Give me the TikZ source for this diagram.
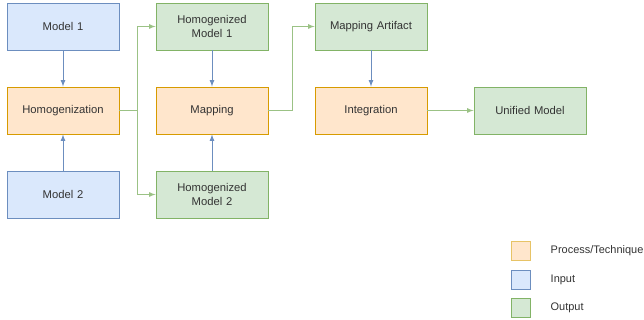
\documentclass[tikz,border=0pt]{standalone}
\usepackage{fontspec}
\setmainfont{Liberation Sans}
\usetikzlibrary{arrows, calc, positioning}

\definecolor{inFill}{HTML}{DAE8FC}
\definecolor{inLine}{HTML}{6C8EBF}
\definecolor{procFill}{HTML}{FFE6CC}
\definecolor{procLine}{HTML}{D79B00}
\definecolor{outFill}{HTML}{D5E8D4}
\definecolor{outLine}{HTML}{82B366}
\definecolor{txt}{HTML}{333333}

\tikzset{
    box/.style = {draw, line width=0.6pt, minimum width=2.8cm, minimum height=1.175cm, text width=2.5cm, align=center, inner sep=0pt, font=\fontsize{8}{9.5}\selectfont, text=txt},
    inbox/.style = {box, fill=inFill, draw=inLine},
    procbox/.style = {box, fill=procFill, draw=procLine},
    outbox/.style = {box, fill=outFill, draw=outLine},
    keybox/.style = {draw, line width=0.6pt, minimum size=0.475cm, inner sep=0pt},
    keytext/.style = {anchor=west, inner sep=0pt, font=\fontsize{7.8}{9}\selectfont, text=txt},
    blueline/.style = {->, draw=inLine, line width=0.6pt},
    greenline/.style = {->, draw=outLine!80, line width=0.6pt}
}

\begin{document}
\begin{tikzpicture}[>=latex]
    \useasboundingbox (0,0) rectangle (16.1,-8);

    \node[inbox] at (1.575,-0.6625) (model1) {Model 1};
    \node[procbox, below of=model1, node distance=2.1cm] (homog) {Homogenization};
    \node[inbox, below of=homog, node distance=2.1cm] (model2) {Model 2};

    \node[outbox, right of=model1, node distance=3.725cm] (hmodel1) {Homogenized\\Model 1};
    \node[procbox, right of=homog, node distance=3.725cm] (mapping) {Mapping};
    \node[outbox, right of=model2, node distance=3.725cm] (hmodel2) {Homogenized\\Model 2};

    \node[outbox, right of=hmodel1, node distance=3.975cm] (artifact) {Mapping Artifact};
    \node[procbox, right of=mapping, node distance=3.975cm] (integr) {Integration};
    \node[outbox, right of=integr, node distance=3.975cm] (unified) {Unified Model};

    \draw[blueline] (model1) -- (homog);
    \draw[blueline] (model2) -- (homog);
    \draw[blueline] (hmodel1) -- (mapping);
    \draw[blueline] (hmodel2) -- (mapping);
    \draw[blueline] (artifact) -- (integr);

    \coordinate (split) at ($(homog.east)!0.5!(mapping.west)$);
    \draw[greenline] (homog.east) -| (split) |- (hmodel1.west);
    \draw[greenline] (homog.east) -| (split) |- (hmodel2.west);
    \coordinate (turn) at ([xshift=0.6cm]mapping.east);
    \draw[greenline] (mapping.east) -| (turn) |- (artifact.west);
    \draw[greenline] (integr) -- (unified);

    % legend
    \node[keybox, fill=procFill, draw=procLine!60] at (13.0125,-6.2625) (keyproc) {};
    \node[keybox, fill=inFill, draw=inLine, below of=keyproc, node distance=0.725cm] (keyin) {};
    \node[keybox, fill=outFill, draw=outLine, below of=keyin, node distance=0.7cm] (keyout) {};
    \node[keytext, right=0.5cm of keyproc] (labproc) {Process/Technique};
    \node[keytext, right=0.5cm of keyin] (labin) {Input};
    \node[keytext, right=0.5cm of keyout] (labout) {Output};
\end{tikzpicture}
\end{document}
